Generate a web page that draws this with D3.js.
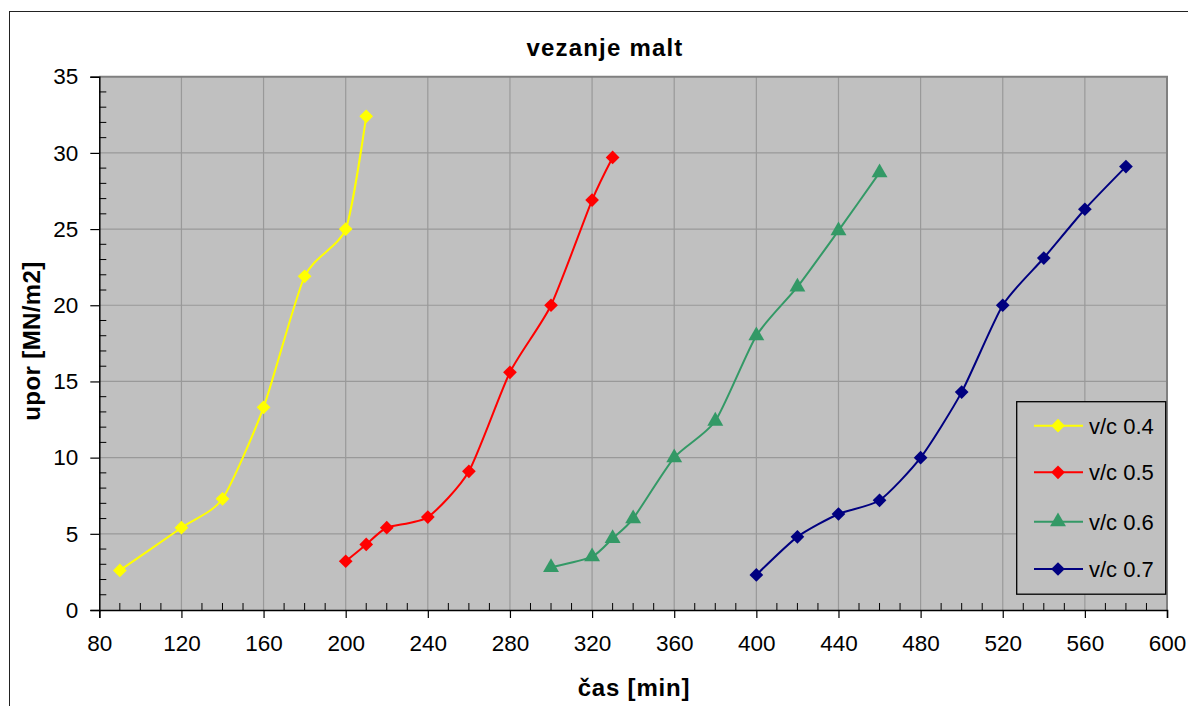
<!DOCTYPE html>
<html>
<head>
<meta charset="utf-8">
<script src="https://cdn.jsdelivr.net/npm/d3@7"></script>
<style>
  html, body { margin: 0; padding: 0; background: #fff; }
  svg { display: block; font-family: "Liberation Sans", Arial, sans-serif; }
</style>
</head>
<body>
<svg id="chart" width="1188" height="706"></svg>
<script>
// Setting time of mortars for different water/cement ratios
const seriesNames = ["v/c 0.4", "v/c 0.5", "v/c 0.6", "v/c 0.7"];
const seriesColors = ["#ffff00", "#ff0000", "#339966", "#000080"];
const seriesSymbols = ["diamond", "diamond", "triangle", "diamond"];

const time04 = [90, 120, 140, 160, 180, 200, 210];
const resist04 = [2.6, 5.4, 7.3, 13.3, 21.9, 25.0, 32.4];

const time05 = [200, 210, 220, 240, 260, 280, 300, 320, 330];
const resist05 = [3.2, 4.3, 5.4, 6.1, 9.1, 15.6, 20.0, 26.9, 29.7];

const time06 = [300, 320, 330, 340, 360, 380, 400, 420, 440, 460];
const resist06 = [2.8, 3.5, 4.7, 6.0, 10.0, 12.4, 18.0, 21.2, 24.9, 28.7];

const time07 = [400, 420, 440, 460, 480, 500, 520, 540, 560, 580];
const resist07 = [2.3, 4.8, 6.3, 7.2, 10.0, 14.3, 20.0, 23.1, 26.3, 29.1];

const xTicks = [80, 120, 160, 200, 240, 280, 320, 360, 400, 440, 480, 520, 560, 600];
const yTicks = [0, 5, 10, 15, 20, 25, 30, 35];

const chartTitle = "vezanje malt";
const xTitle = "čas [min]";
const yTitle = "upor [MN/m2]";

const seriesTimes = [time04, time05, time06, time07];
const seriesResist = [resist04, resist05, resist06, resist07];
const series = seriesNames.map((name, i) => ({
  name,
  color: seriesColors[i],
  symbol: seriesSymbols[i],
  points: seriesTimes[i].map((t, j) => ({ t, r: seriesResist[i][j] }))
}));

const svg = d3.select("#chart");
const plot = { left: 99.3, right: 1167, top: 76.7, bottom: 610 };

const x = d3.scaleLinear().domain([80, 600]).range([plot.left, plot.right]);
const y = d3.scaleLinear().domain([0, 35]).range([plot.bottom, plot.top]);

// outer chart frame
svg.append("rect")
  .attr("x", 9.5).attr("y", 11.5)
  .attr("width", 1200).attr("height", 720)
  .attr("fill", "#fff").attr("stroke", "#222").attr("stroke-width", 1);

// plot background
svg.append("rect")
  .attr("x", plot.left).attr("y", plot.top)
  .attr("width", plot.right - plot.left).attr("height", plot.bottom - plot.top)
  .attr("fill", "#c0c0c0");

// gridlines
const grid = svg.append("g").attr("stroke", "#999").attr("stroke-width", 1.2);
grid.selectAll("line.vx").data(xTicks.slice(1, -1)).join("line")
  .attr("x1", d => x(d)).attr("x2", d => x(d))
  .attr("y1", plot.top).attr("y2", plot.bottom);
grid.selectAll("line.hy").data(yTicks.slice(1, -1)).join("line")
  .attr("x1", plot.left).attr("x2", plot.right)
  .attr("y1", d => y(d)).attr("y2", d => y(d));

// plot border (top and right in gray)
svg.append("path")
  .attr("d", `M${plot.left},${plot.top}H${plot.right}V${plot.bottom}`)
  .attr("fill", "none").attr("stroke", "#808080").attr("stroke-width", 2);

// minor ticks (inside)
const minorX = d3.range(90, 600, 10).filter(v => v % 40 !== 0);
const minorY = d3.range(1, 35, 1).filter(v => v % 5 !== 0);
const axisColor = "#000";
svg.append("g").selectAll("line").data(minorX).join("line")
  .attr("x1", d => x(d)).attr("x2", d => x(d))
  .attr("y1", plot.bottom).attr("y2", plot.bottom - 7)
  .attr("stroke", axisColor).attr("stroke-width", 1);
svg.append("g").selectAll("line").data(minorY).join("line")
  .attr("x1", plot.left).attr("x2", plot.left + 7)
  .attr("y1", d => y(d)).attr("y2", d => y(d))
  .attr("stroke", axisColor).attr("stroke-width", 1);

// x axis
const xAxis = d3.axisBottom(x).tickValues(xTicks).tickSize(8).tickPadding(17).tickFormat(d3.format("d"));
const gx = svg.append("g").attr("transform", `translate(0,${plot.bottom})`).call(xAxis);
gx.select(".domain").attr("stroke", axisColor).attr("stroke-width", 1.5);
gx.selectAll(".tick line").attr("stroke", axisColor).attr("stroke-width", 1.2);
gx.selectAll(".tick text").attr("font-size", 22.5).attr("fill", "#000")
  .attr("font-family", "'Liberation Sans', Arial, sans-serif");

// y axis
const yAxis = d3.axisLeft(y).tickValues(yTicks).tickSize(9).tickPadding(12).tickFormat(d3.format("d"));
const gy = svg.append("g").attr("transform", `translate(${plot.left},0)`).call(yAxis);
gy.select(".domain").attr("stroke", axisColor).attr("stroke-width", 1.5);
gy.selectAll(".tick line").attr("stroke", axisColor).attr("stroke-width", 1.2);
gy.selectAll(".tick text").attr("font-size", 22.5).attr("fill", "#000")
  .attr("font-family", "'Liberation Sans', Arial, sans-serif");

// titles
svg.append("text")
  .attr("x", 605).attr("y", 56)
  .attr("text-anchor", "middle")
  .attr("font-size", 24).attr("font-weight", "bold")
  .attr("letter-spacing", 1.2)
  .text(chartTitle);
svg.append("text")
  .attr("x", 634).attr("y", 696)
  .attr("text-anchor", "middle")
  .attr("font-size", 24).attr("font-weight", "bold")
  .attr("letter-spacing", 0.8)
  .text(xTitle);
svg.append("text")
  .attr("transform", `translate(40,341) rotate(-90)`)
  .attr("text-anchor", "middle")
  .attr("font-size", 24).attr("font-weight", "bold")
  .attr("letter-spacing", 0.4)
  .text(yTitle);

// series lines and markers (lightly smoothed)
const line = d3.line()
  .x(d => x(d.t)).y(d => y(d.r))
  .curve(d3.curveCardinal.tension(0.35));

const symbolGen = {
  diamond: d3.symbol().type(d3.symbolDiamond2).size(120),
  triangle: d3.symbol().type(d3.symbolTriangle).size(110)
};

const sg = svg.append("g");
series.forEach(s => {
  sg.append("path")
    .datum(s.points)
    .attr("d", line)
    .attr("fill", "none")
    .attr("stroke", s.color)
    .attr("stroke-width", 2);
  sg.append("g").selectAll("path").data(s.points).join("path")
    .attr("transform", d => `translate(${x(d.t)},${y(d.r)})`)
    .attr("d", symbolGen[s.symbol])
    .attr("fill", s.color);
});

// legend
const legend = svg.append("g");
legend.append("rect")
  .attr("x", 1016.7).attr("y", 401.7)
  .attr("width", 149).attr("height", 192.5)
  .attr("fill", "#c0c0c0").attr("stroke", "#000").attr("stroke-width", 1.3);
const legendY = [425.7, 472.3, 521.7, 569];
series.forEach((s, i) => {
  const gy0 = legendY[i];
  legend.append("line")
    .attr("x1", 1034).attr("x2", 1083)
    .attr("y1", gy0).attr("y2", gy0)
    .attr("stroke", s.color).attr("stroke-width", 2);
  legend.append("path")
    .attr("transform", `translate(1058,${gy0})`)
    .attr("d", symbolGen[s.symbol])
    .attr("fill", s.color);
  legend.append("text")
    .attr("x", 1089).attr("y", gy0)
    .attr("dy", "0.36em")
    .attr("font-size", 22)
    .text(s.name);
});
</script>
</body>
</html>
